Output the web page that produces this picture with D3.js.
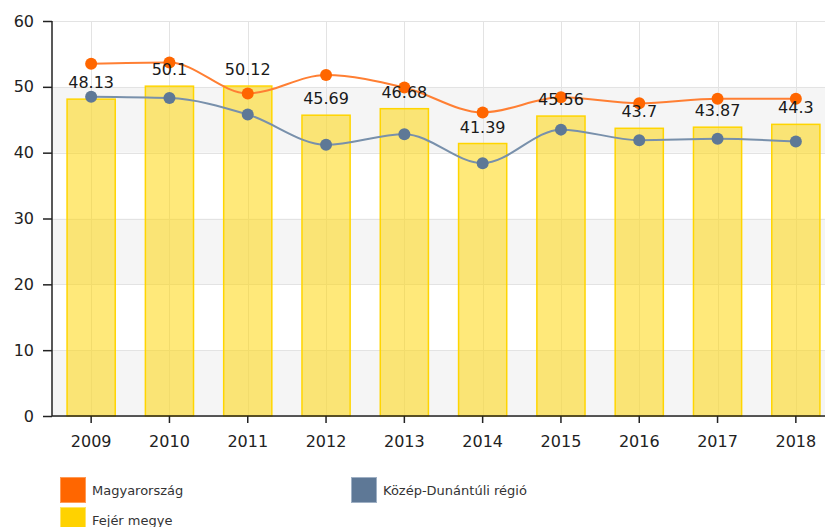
<!DOCTYPE html>
<html>
<head>
<meta charset="utf-8">
<script src="https://cdn.jsdelivr.net/npm/d3@7"></script>
<style>
  html, body { margin: 0; padding: 0; background: #fff; }
  svg { display: block; font-family: "DejaVu Sans", Verdana, sans-serif; }
</style>
</head>
<body>
<svg id="chart" width="825" height="527"></svg>
<script>
// Years on the category axis
const years = ["2009", "2010", "2011", "2012", "2013", "2014", "2015", "2016", "2017", "2018"];
// Fejér megye (bars, labelled)
const fejer = [48.13, 50.1, 50.12, 45.69, 46.68, 41.39, 45.56, 43.7, 43.87, 44.3];
// Magyarország (orange line)
const magyarorszag = [53.5, 53.7, 49.0, 51.8, 49.9, 46.1, 48.4, 47.5, 48.2, 48.2];
// Közép-Dunántúli régió (blue line)
const kozepDunantul = [48.5, 48.3, 45.8, 41.2, 42.8, 38.4, 43.5, 41.9, 42.1, 41.7];
// Value axis ticks
const yTicks = [0, 10, 20, 30, 40, 50, 60];

const legendItems = [
  { name: "Magyarország", color: "#FF6600", border: "#ff9a55" },
  { name: "Közép-Dunántúli régió", color: "#5E7896", border: "#9fb0c4" },
  { name: "Fejér megye", color: "#FFD200", border: "#ffe466" }
];

const svg = d3.select("#chart");
const plotLeft = 52, plotTop = 21, plotBottom = 416, plotRight = 835;

const x = d3.scaleBand().domain(years).range([plotLeft, plotRight])
  .paddingInner(0.385).paddingOuter(0.1925);
const y = d3.scaleLinear().domain([0, 60]).range([plotBottom, plotTop]);
const cx = d => x(d) + x.bandwidth() / 2;

// Alternating horizontal bands
const bands = svg.append("g");
for (let i = 0; i < yTicks.length - 1; i++) {
  if (i % 2 === 0) {
    bands.append("rect")
      .attr("x", plotLeft).attr("width", 825 - plotLeft)
      .attr("y", y(yTicks[i + 1])).attr("height", y(yTicks[i]) - y(yTicks[i + 1]))
      .attr("fill", "#f5f5f5");
  }
}

// Grid lines
const grid = svg.append("g").attr("stroke", "#e3e3e3").attr("stroke-width", 1);
yTicks.forEach(t => {
  grid.append("line").attr("x1", plotLeft).attr("x2", 825)
    .attr("y1", Math.round(y(t)) + 0.5).attr("y2", Math.round(y(t)) + 0.5);
});
years.forEach(d => {
  grid.append("line").attr("x1", Math.round(cx(d)) + 0.5).attr("x2", Math.round(cx(d)) + 0.5)
    .attr("y1", plotTop).attr("y2", plotBottom);
});

// Bars
svg.append("g").selectAll("rect").data(years).join("rect")
  .attr("x", d => x(d))
  .attr("width", x.bandwidth())
  .attr("y", (d, i) => y(fejer[i]))
  .attr("height", (d, i) => y(0) - y(fejer[i]))
  .attr("fill", "rgba(255,212,0,0.52)")
  .attr("stroke", "#FFD500")
  .attr("stroke-width", 1.5);

// Axes
const yAxis = svg.append("g").attr("transform", `translate(${plotLeft},0)`)
  .call(d3.axisLeft(y).tickValues(yTicks).tickSize(9).tickPadding(9));
const xAxis = svg.append("g").attr("transform", `translate(0,${plotBottom})`)
  .call(d3.axisBottom(x).tickSize(7).tickPadding(13));
[yAxis, xAxis].forEach(a => {
  a.select(".domain").attr("stroke", "#222").attr("stroke-width", 1.5);
  a.selectAll(".tick line").attr("stroke", "#222").attr("stroke-width", 1.5);
  a.selectAll(".tick text").attr("fill", "#222")
    .style("font-family", "'DejaVu Sans', Verdana, sans-serif").style("font-size", "16px");
});
yAxis.select(".domain").attr("d", `M0,${plotTop}V${plotBottom}`);
xAxis.select(".domain").attr("d", `M${plotLeft},0H825`);

// Lines with markers
const series = [
  { values: kozepDunantul, color: "#5E7896", line: "#7890ab" },
  { values: magyarorszag, color: "#FF6600", line: "#ff7f33" }
];
const lineGen = d3.line()
  .x((v, i) => cx(years[i]))
  .y(v => y(v))
  .curve(d3.curveMonotoneX);
series.forEach(s => {
  svg.append("path").datum(s.values)
    .attr("d", lineGen)
    .attr("fill", "none")
    .attr("stroke", s.line)
    .attr("stroke-width", 2);
  svg.append("g").selectAll("circle").data(s.values).join("circle")
    .attr("cx", (v, i) => cx(years[i]))
    .attr("cy", v => y(v))
    .attr("r", 6)
    .attr("fill", s.color);
});

// Bar value labels
svg.append("g").selectAll("text").data(years).join("text")
  .attr("x", d => cx(d))
  .attr("y", (d, i) => y(fejer[i]) - 11)
  .attr("text-anchor", "middle")
  .attr("fill", "#1a1a1a")
  .style("font-size", "16px")
  .text((d, i) => String(fejer[i]));

// Legend
const legendPos = [[60, 477], [351, 477], [60, 507]];
const legend = svg.append("g");
legendItems.forEach((item, i) => {
  const [lx, ly] = legendPos[i];
  legend.append("rect")
    .attr("x", lx + 0.5).attr("y", ly + 0.5)
    .attr("width", 25).attr("height", 25)
    .attr("fill", item.color)
    .attr("stroke", item.border).attr("stroke-width", 1);
  legend.append("text")
    .attr("x", lx + 32).attr("y", ly + 13)
    .attr("dominant-baseline", "central")
    .attr("fill", "#333")
    .style("font-size", "13px")
    .text(item.name);
});
</script>
</body>
</html>
